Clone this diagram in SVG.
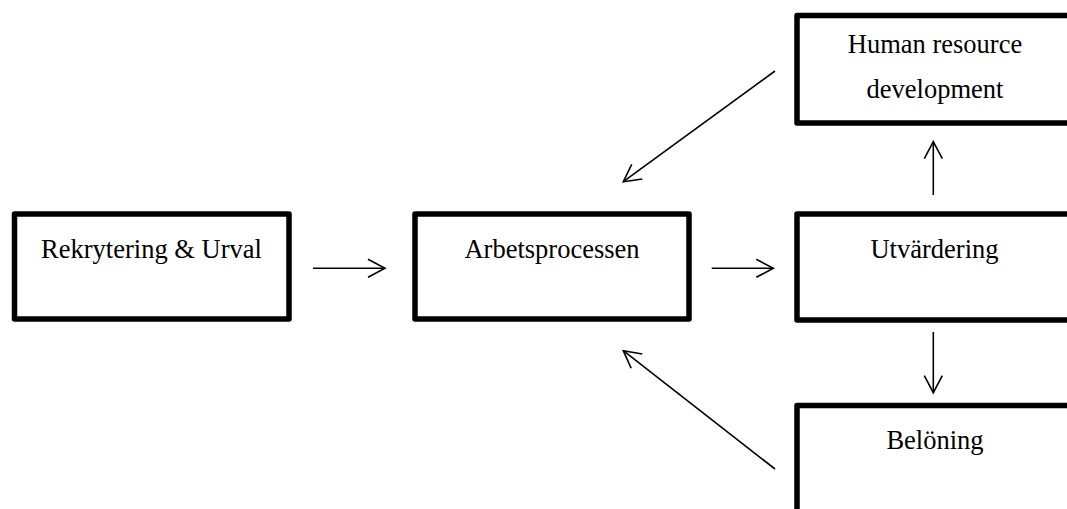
<svg xmlns="http://www.w3.org/2000/svg" width="1067" height="509" viewBox="0 0 1067 509">
  <style>
    .box { fill: #ffffff; stroke: #000000; stroke-width: 5.5; stroke-linejoin: round; }
    .label { font-family: "Liberation Serif", "Times New Roman", serif; font-size: 26.5px; fill: #000000; text-anchor: middle; }
    .link { fill: none; stroke: #000000; stroke-width: 1.6; }
    .head { fill: none; stroke: #000000; stroke-width: 1.6; stroke-linejoin: miter; }
  </style>
  <defs>
    <marker id="open-arrow" markerUnits="userSpaceOnUse" markerWidth="24" markerHeight="24" viewBox="-20 -12 24 24" refX="0" refY="0" orient="auto">
      <path class="head" d="M -17 -9 L 0 0 L -17 9"/>
    </marker>
  </defs>
  <rect width="1067" height="509" fill="#ffffff"/>

  <g id="node-rekrytering">
    <rect class="box" x="14.5" y="214" width="274.5" height="105"/>
    <text class="label" x="151.5" y="257.5">Rekrytering &amp; Urval</text>
  </g>

  <g id="node-arbetsprocessen">
    <rect class="box" x="415" y="214" width="274" height="105"/>
    <text class="label" x="552" y="257.5">Arbetsprocessen</text>
  </g>

  <g id="node-utvardering">
    <rect class="box" x="797" y="214" width="275" height="106"/>
    <text class="label" x="934.5" y="257.5">Utvärdering</text>
  </g>

  <g id="node-hrd">
    <rect class="box" x="797" y="15.5" width="275" height="107.5"/>
    <text class="label" x="935" y="53">Human resource</text>
    <text class="label" x="935" y="97.5">development</text>
  </g>

  <g id="node-beloning">
    <rect class="box" x="797" y="405.5" width="275" height="120"/>
    <text class="label" x="935" y="449">Belöning</text>
  </g>

  <g id="connectors">
    <line class="link" x1="313" y1="268.3" x2="385" y2="268.3" marker-end="url(#open-arrow)"/>
    <line class="link" x1="711.7" y1="268.3" x2="773.3" y2="268.3" marker-end="url(#open-arrow)"/>
    <line class="link" x1="933.3" y1="195" x2="933.3" y2="141.7" marker-end="url(#open-arrow)"/>
    <line class="link" x1="933.3" y1="332" x2="933.3" y2="392.7" marker-end="url(#open-arrow)"/>
    <line class="link" x1="775" y1="71" x2="623.3" y2="181.7" marker-end="url(#open-arrow)"/>
    <line class="link" x1="775" y1="469" x2="623.3" y2="350.7" marker-end="url(#open-arrow)"/>
  </g>
</svg>
